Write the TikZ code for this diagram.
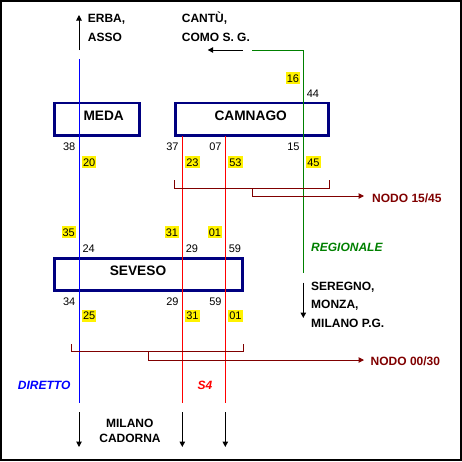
\documentclass[tikz,border=0pt]{standalone}
\usepackage{fontspec}
\setmainfont{Liberation Sans}
\usetikzlibrary{arrows.meta}
\definecolor{navy}{RGB}{0,0,128}
\definecolor{dred}{RGB}{128,0,0}
\definecolor{dgreen}{RGB}{0,128,0}
\definecolor{pblue}{RGB}{0,0,255}
\definecolor{pred}{RGB}{255,0,0}
\begin{document}
\begin{tikzpicture}[x=1pt,y=-1pt,
  stationbox/.style={draw=navy,line width=2.8pt,inner sep=0,minimum width=#1,minimum height=32.5pt},
  stationbox/.default=85pt,
  stname/.style={font=\fontsize{13.7}{14}\selectfont\bfseries,inner sep=0,anchor=base},
  lbl/.style={font=\fontsize{12}{12}\selectfont\bfseries,inner sep=0,anchor=base west},
  lblc/.style={font=\fontsize{12}{12}\selectfont\bfseries,inner sep=0,anchor=base},
  num/.style={font=\fontsize{11}{11}\selectfont,inner sep=0},
  hl/.style={num,fill=yellow,inner xsep=1pt,inner ysep=0pt,text height=10pt,text depth=2.3pt},
  track/.style={line width=1pt},
  arr/.style={line width=1pt,-{Triangle[length=5.5pt,width=5.5pt]}},
  bracket/.style={draw=dred,line width=1pt},
]
\useasboundingbox (0,0) rectangle (462,461);
\draw[line width=2pt] (1,1) rectangle (461,460);

% station boxes
\node[stationbox=85.3pt] (meda) at (96.85,119.15) {};
\node[stationbox=153.3pt] (camnago) at (251.85,119.15) {};
\node[stationbox=188pt,minimum height=32pt] (seveso) at (148.2,274.2) {};

% coordinates for track ends
\coordinate (bTop) at (79,59);
\coordinate (bBot) at (79,402.7);
\coordinate (r1Top) at (182.3,136);
\coordinate (r1Bot) at (182.3,402.7);
\coordinate (r2Top) at (225.3,136);
\coordinate (r2Bot) at (225.3,402.7);
\coordinate (gStart) at (252,50);
\coordinate (gCorner) at (303.3,50);
\coordinate (gBot) at (303.3,273);

% tracks
\draw[track,pblue] (bTop) -- (bBot);
\draw[track,pred] (r1Top) -- (r1Bot);
\draw[track,pred] (r2Top) -- (r2Bot);
\draw[track,dgreen] (gStart) -- (gCorner) -- (gBot);

% direction arrows
\coordinate (erbaS) at (79,50);
\coordinate (erbaE) at (79,15);
\draw[arr] (erbaS) -- (erbaE);
\coordinate (cantuS) at (242.7,50);
\coordinate (cantuE) at (207.7,50);
\draw[arr] (cantuS) -- (cantuE);
\coordinate (seregS) at (303.3,282.7);
\coordinate (seregE) at (303.3,318);
\draw[arr] (seregS) -- (seregE);
\coordinate (m1S) at (79,412);
\coordinate (m1E) at (79,447);
\coordinate (m2S) at (182.3,412);
\coordinate (m2E) at (182.3,447);
\coordinate (m3S) at (225.3,412);
\coordinate (m3E) at (225.3,447);
\draw[arr] (m1S) -- (m1E);
\draw[arr] (m2S) -- (m2E);
\draw[arr] (m3S) -- (m3E);

% station names
\node[stname] (medat) at (103.7,120) {MEDA};
\node[stname] (camt) at (250.7,120) {CAMNAGO};
\node[stname] (sevt) at (138,275) {SEVESO};

% direction labels
\node[lbl] (erba) at (87.7,22.5) {ERBA,};
\node[lbl] (asso) at (87.7,41) {ASSO};
\node[lbl] (cantu) at (181.7,22.5) {CANTÙ,};
\node[lbl] (como) at (181.7,41) {COMO S. G.};
\node[lbl] (sereg) at (311,290) {SEREGNO,};
\node[lbl] (monza) at (311,308.5) {MONZA,};
\node[lbl] (milpg) at (311,327) {MILANO P.G.};
\node[lblc] (milano) at (129.8,427.3) {MILANO};
\node[lblc] (cadorna) at (130,442) {CADORNA};
\node[lbl,font=\fontsize{12}{12}\selectfont\bfseries\itshape,text=dgreen] (regio) at (311,251) {REGIONALE};
\node[lbl,font=\fontsize{12}{12}\selectfont\bfseries\itshape,text=pblue] (dir) at (17.7,389) {DIRETTO};
\node[lbl,font=\fontsize{12}{12}\selectfont\bfseries\itshape,text=pred] (s4) at (197.3,389) {S4};

% nodes (brackets)
\coordinate (b1L) at (174.3,180);
\coordinate (b1LL) at (174.3,188.3);
\coordinate (b1RR) at (329.3,188.3);
\coordinate (b1R) at (329.3,180);
\draw[bracket] (b1L) -- (b1LL) -- (b1RR) -- (b1R);
\coordinate (b1M) at (252,188.3);
\coordinate (b1K) at (252,196);
\coordinate (b1E) at (364,196);
\node[lbl,text=dred] (nodo1) at (372,202.5) {NODO 15/45};
\draw[bracket,-{Triangle[length=5.5pt,width=5.5pt]}] (b1M) -- (b1K) -- (b1E);

\coordinate (b2L) at (71,344);
\coordinate (b2LL) at (71,351);
\coordinate (b2RR) at (243,351);
\coordinate (b2R) at (243,344);
\draw[bracket] (b2L) -- (b2LL) -- (b2RR) -- (b2R);
\coordinate (b2M) at (148,351);
\coordinate (b2K) at (148,360);
\coordinate (b2E) at (364,360);
\node[lbl,text=dred] (nodo2) at (370.5,365) {NODO 00/30};
\draw[bracket,-{Triangle[length=5.5pt,width=5.5pt]}] (b2M) -- (b2K) -- (b2E);

% times around MEDA / CAMNAGO
\node[num,anchor=base east] (t38) at (75.5,150.7) {38};
\node[num,anchor=base east] (t37) at (178.8,150.7) {37};
\node[num,anchor=base east] (t07) at (221.8,150.7) {07};
\node[num,anchor=base east] (t15) at (299.8,150.7) {15};
\node[hl,anchor=base west] (t20) at (81.8,166) {20};
\node[hl,anchor=base west] (t23) at (185.1,166) {23};
\node[hl,anchor=base west] (t53) at (228.1,166) {53};
\node[hl,anchor=base west] (t45) at (306.1,166) {45};
\node[hl,anchor=base east] (t16) at (300.3,82) {16};
\node[num,anchor=base west] (t44) at (306.6,97) {44};

% times around SEVESO
\node[hl,anchor=base east] (t35) at (76,236) {35};
\node[hl,anchor=base east] (t31a) at (179.3,236) {31};
\node[hl,anchor=base east] (t01a) at (222.3,236) {01};
\node[num,anchor=base west] (t24) at (82.3,252) {24};
\node[num,anchor=base west] (t29a) at (185.6,252) {29};
\node[num,anchor=base west] (t59a) at (228.6,252) {59};
\node[num,anchor=base east] (t34) at (75.5,305.7) {34};
\node[num,anchor=base east] (t29b) at (178.8,305.7) {29};
\node[num,anchor=base east] (t59b) at (221.8,305.7) {59};
\node[hl,anchor=base west] (t25) at (81.8,319.7) {25};
\node[hl,anchor=base west] (t31b) at (185.1,319.7) {31};
\node[hl,anchor=base west] (t01b) at (228.1,319.7) {01};
\end{tikzpicture}
\end{document}
